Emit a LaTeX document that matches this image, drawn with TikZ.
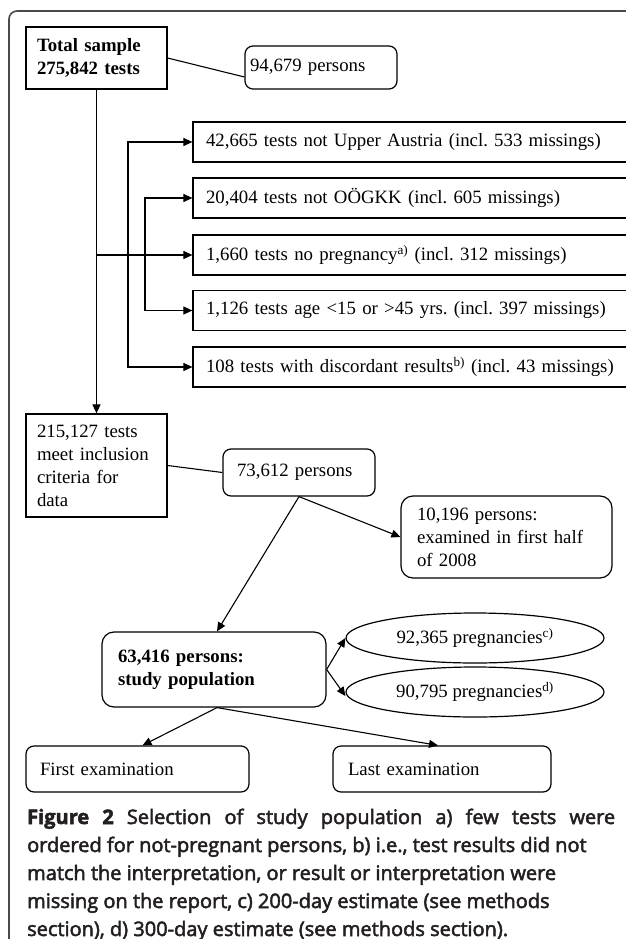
\documentclass[tikz,border=0pt]{standalone}
\usepackage{fontspec}
\setmainfont{Liberation Serif}
\newfontfamily\capfont[FakeBold=2.5]{Open Sans}
\usetikzlibrary{arrows.meta,shapes.geometric}
\frenchspacing
\newcommand{\boxfont}{\fontsize{18.8pt}{23pt}\selectfont}
\newcommand{\capsize}{\fontsize{20pt}{28pt}\selectfont}
\definecolor{framegray}{HTML}{4A4A4A}
\definecolor{captext}{HTML}{231F20}
\tikzset{sqbox/.style={draw, line width=1.2pt, font=\boxfont, align=left, inner ysep=0pt}, rbox/.style={sqbox, rounded corners=8pt}, oval/.style={draw, ellipse, line width=1.2pt, font=\boxfont, inner sep=0pt, minimum width=258pt, minimum height=50pt}, link/.style={line width=1.1pt}, arr/.style={link, -{Triangle[length=9pt,width=8pt]}}, capline/.style={anchor=base west, inner sep=0pt, font=\capfont\capsize, text=captext}}

\begin{document}
\begin{tikzpicture}[x=1pt,y=-1pt]
\useasboundingbox (0,0) rectangle (625,939);
\draw[framegray, line width=1.6pt, rounded corners=8pt] (9,950) -- (9,11) -- (640,11);
% upper part: exclusions
\node[sqbox, font=\boxfont\bfseries, text width=119pt, inner xsep=11pt, minimum height=62pt] (total) at (96.5,58) {Total sample\\275,842 tests};
\node[rbox, text width=142pt, inner xsep=5pt, minimum height=43pt] (pers1) at (321,67.5) {94,679 persons};
\node[sqbox, text width=421pt, inner xsep=13pt, minimum height=40pt] (ex1) at (416.5,142) {42,665 tests not Upper Austria (incl. 533 missings)};
\node[sqbox, text width=421pt, inner xsep=13pt, minimum height=40pt] (ex2) at (416.5,198) {20,404 tests not OÖGKK (incl. 605 missings)};
\node[sqbox, text width=421pt, inner xsep=13pt, minimum height=40pt] (ex3) at (416.5,255) {1,660 tests no pregnancy\textsuperscript{a)} (incl. 312 missings)};
\node[sqbox, text width=421pt, inner xsep=13pt, minimum height=40pt] (ex4) at (416.5,310.5) {1,126 tests age <15 or >45 yrs. (incl. 397 missings)};
\node[sqbox, text width=421pt, inner xsep=13pt, minimum height=40pt] (ex5) at (416.5,367) {108 tests with discordant results\textsuperscript{b)} (incl. 43 missings)};
\coordinate (busA) at (128,0); \coordinate (busB) at (145,0);
\draw[link] (total.east) -- ([yshift=-9.5pt]pers1.west);
\draw[arr] (total.south |- ex3.west) -- (ex3.west);
\draw[arr] (busA |- ex3.west) |- (ex1.west); \draw[arr] (busA |- ex3.west) |- (ex5.west);
\draw[arr] (busB |- ex3.west) |- (ex2.west); \draw[arr] (busB |- ex3.west) |- (ex4.west);
% lower part: study population
\node[sqbox, text width=119pt, inner xsep=11pt, minimum height=103pt] (incl) at (96.5,465.5) {215,127 tests\\meet inclusion\\criteria for\\data};
\node[rbox, text width=124pt, inner xsep=14pt, minimum height=47pt] (pers2) at (299,472.5) {73,612 persons};
\node[rbox, rounded corners=12pt, text width=179pt, inner xsep=16pt, minimum height=82pt] (half) at (506.5,537) {10,196 persons:\\examined in first half\\of 2008};
\node[rbox, rounded corners=12pt, font=\boxfont\bfseries, text width=192pt, inner xsep=16pt, minimum height=75pt] (study) at (214,669.5) {63,416 persons:\\study population};
\node[oval] (preg1) at (475,638) {92,365 pregnancies\textsuperscript{c)}};
\node[oval] (preg2) at (475,692) {90,795 pregnancies\textsuperscript{d)}};
\node[rbox, text width=195pt, inner xsep=14pt, minimum height=46pt] (first) at (137.5,769) {First examination};
\node[rbox, text width=188pt, inner xsep=15pt, minimum height=46pt] (last) at (442,769) {Last examination};
\draw[arr] (total.south) -- (incl.north);
\draw[link] (incl.east) -- (pers2.west);
\draw[arr] (pers2.south) -- (half.west); \draw[arr] (pers2.south) -- ([xshift=3pt]study.north);
\draw[arr] (study.east) -- (preg1.west); \draw[arr] (study.east) -- ([yshift=-4pt]preg2.west);
\draw[arr] ([xshift=3pt]study.south) -- ([xshift=5pt]first.north); \draw[arr] ([xshift=3pt]study.south) -- ([xshift=-4pt]last.north);
% caption
\node[capline] (cap1) at (27,824) {\makebox[588pt][s]{{\bfseries Figure 2} Selection of study population a) few tests were}};
\node[capline] (cap2) at (27,852) {ordered for not-pregnant persons, b) i.e., test results did not};
\node[capline] (cap3) at (27,880) {match the interpretation, or result or interpretation were};
\node[capline] (cap4) at (27,908) {missing on the report, c) 200-day estimate (see methods};
\node[capline] (cap5) at (27,936) {section), d) 300-day estimate (see methods section).};
\end{tikzpicture}
\end{document}
